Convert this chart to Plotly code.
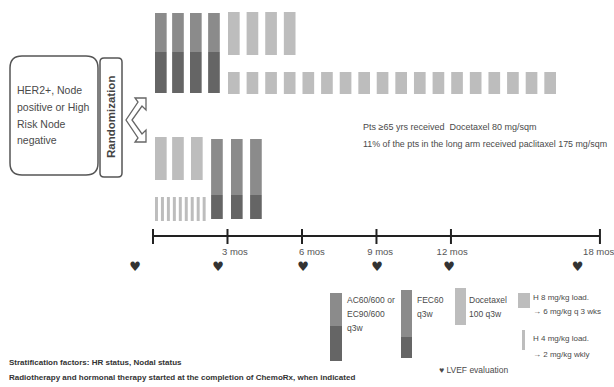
import plotly.graph_objects as go

W, H = 614, 387
PX0, PXM = 153.0, 24.83          # pixel of month 0 and pixels per month
def px2m(px):
    return (px - PX0) / PXM

# ---------------- data (months) ----------------
# Long arm: AC/EC q3w x4 -> Docetaxel q3w x4 ; trastuzumab q3w x18
long_ac_start = [0.08, 0.77, 1.49, 2.22]
long_doc_start = [3.02, 3.77, 4.52, 5.27]
long_h_start = [3.02, 3.77, 4.52, 5.27, 6.02, 6.77, 7.52, 8.27, 9.01,
                9.76, 10.51, 11.26, 12.01, 12.76, 13.51, 14.26, 15.01, 15.76]
# Short arm: Docetaxel q3w x3 + weekly H x9 -> FEC q3w x3
short_doc_start = [0.08, 0.77, 1.53]
short_hw_start = [0.08, 0.32, 0.56, 0.80, 1.04, 1.28, 1.52, 1.76, 2.00]
short_fec_start = [2.34, 3.14, 3.91]

timeline_ticks = [0, 3, 6, 9, 12, 18]
tick_labels = ["3 mos", "6 mos", "9 mos", "12 mos", "18 mos"]
tick_label_pos = [3.3, 6.4, 9.15, 12.05, 17.95]
lvef_months = [-0.72, 2.62, 6.04, 9.02, 11.92, 17.1]

# ---------------- styles ----------------
MED, DARK, LIGHT = "#8b8b8b", "#656565", "#bdbdbd"
FONT = "Liberation Sans, Arial, sans-serif"
TXT = "#4a4a4a"
THICK, THIN = 0.47, 0.12

fig = go.Figure()

def add_bars(starts, width, top, bottom, color):
    fig.add_trace(go.Bar(
        x=[s + width / 2 for s in starts],
        base=[top] * len(starts),
        y=[bottom - top] * len(starts),
        width=[width] * len(starts),
        marker=dict(color=color, line=dict(width=0)),
        showlegend=False, hoverinfo="skip"))

# long arm
add_bars(long_ac_start, THICK, 13, 52, MED)
add_bars(long_ac_start, THICK, 52, 93, DARK)
add_bars(long_doc_start, THICK, 12, 55, LIGHT)
add_bars(long_h_start, THICK, 72, 94, LIGHT)
# short arm
add_bars(short_doc_start, THICK, 137, 180, LIGHT)
add_bars(short_hw_start, THIN, 197, 221, LIGHT)
add_bars(short_fec_start, THICK, 139, 195, MED)
add_bars(short_fec_start, THICK, 195, 219, DARK)

# timeline
fig.add_trace(go.Scatter(x=[timeline_ticks[0], timeline_ticks[-1]], y=[236, 236],
                         mode="lines", line=dict(color="#222", width=2),
                         showlegend=False, hoverinfo="skip"))
tx, ty = [], []
for t in timeline_ticks:
    tx += [t, t, None]
    ty += [229, 244, None]
fig.add_trace(go.Scatter(x=tx, y=ty, mode="lines", line=dict(color="#222", width=2),
                         showlegend=False, hoverinfo="skip"))
fig.add_trace(go.Scatter(x=tick_label_pos, y=[253] * len(tick_labels), mode="text",
                         text=tick_labels, textposition="middle center",
                         textfont=dict(family=FONT, size=9.5, color="#555"),
                         showlegend=False, hoverinfo="skip"))
# LVEF hearts
fig.add_trace(go.Scatter(x=lvef_months, y=[268] * len(lvef_months), mode="text",
                         text=["\u2665"] * len(lvef_months), textposition="middle center",
                         textfont=dict(family="DejaVu Sans", size=13, color="#333"),
                         showlegend=False, hoverinfo="skip"))

shapes = []

def rrect_path(x0, y0, x1, y1, r):
    rx = r / PXM
    X0, X1 = px2m(x0), px2m(x1)
    return (f"M {X0+rx},{y0} L {X1-rx},{y0} Q {X1},{y0} {X1},{y0+r} "
            f"L {X1},{y1-r} Q {X1},{y1} {X1-rx},{y1} L {X0+rx},{y1} "
            f"Q {X0},{y1} {X0},{y1-r} L {X0},{y0+r} Q {X0},{y0} {X0+rx},{y0} Z")

shapes.append(dict(type="path", xref="x", yref="y", path=rrect_path(10, 56, 98, 175, 12),
                   line=dict(color="#555", width=1.5), fillcolor="white"))
shapes.append(dict(type="path", xref="x", yref="y", path=rrect_path(100, 58, 122, 177, 4),
                   line=dict(color="#555", width=1.5), fillcolor="white"))

# chevron double arrow
chev = [(135, 98), (146, 98), (146, 110), (142, 106), (132, 120), (142, 134),
        (146, 130), (146, 142), (135, 142), (138, 138), (126, 120), (138, 102)]
path = "M " + " L ".join(f"{px2m(a)},{b}" for a, b in chev) + " Z"
shapes.append(dict(type="path", xref="x", yref="y", path=path,
                   line=dict(color="#666", width=1.3), fillcolor="white"))

# key swatches
def sw(x0, x1, y0, y1, c):
    shapes.append(dict(type="rect", xref="x", yref="y", x0=px2m(x0), x1=px2m(x1),
                       y0=y0, y1=y1, line=dict(width=0), fillcolor=c, layer="below"))
sw(330, 342, 293, 326, MED); sw(330, 342, 326, 361, DARK)
sw(401, 412, 290, 337, MED); sw(401, 412, 337, 358, DARK)
sw(455, 466, 288, 325, LIGHT)
sw(518, 530, 293, 308, LIGHT)
sw(522, 525, 330, 350, LIGHT)

ann = []
def text(x, y, s, size=11, color=TXT, bold=False, family=FONT, **kw):
    if bold:
        s = f"<b>{s}</b>"
    ann.append(dict(x=x / W, y=y, xref="paper", yref="y", text=s, showarrow=False,
                    xanchor=kw.pop("xanchor", "left"), yanchor="middle",
                    font=dict(family=family, size=size, color=color), **kw))

for yy, s in zip([90, 107, 124, 140], ["HER2+, Node", "positive or High", "Risk Node", "negative"]):
    text(15, yy, s, size=10.5)
ann.append(dict(x=111 / W, y=117, xref="paper", yref="y", text="<b>Randomization</b>",
                showarrow=False, textangle=-90, xanchor="center", yanchor="middle",
                font=dict(family=FONT, size=11.5, color="#444")))

text(361, 127, "Pts \u226565 yrs received  Docetaxel 80 mg/sqm", size=9)
text(361, 144, "11% of the pts in the long arm received paclitaxel 175 mg/sqm", size=8.9)

text(345, 300, "AC60/600 or", size=8.5)
text(345, 314, "EC90/600", size=8.5)
text(345, 328, "q3w", size=8.5)
text(415, 300, "FEC60", size=8.5)
text(415, 314, "q3w", size=8.5)
text(467, 300, "Docetaxel", size=8.5)
text(467, 314, "100 q3w", size=8.5)
text(531, 297, "H 8 mg/kg load.", size=8)
text(531, 311, "\u2192 6 mg/kg q 3 wks", size=8)
text(531, 338, "H 4 mg/kg load.", size=8)
text(531, 354, "\u2192 2 mg/kg wkly", size=8)
text(437, 370, "\u2665 LVEF evaluation", size=8.5)

text(7, 362, "Stratification factors: HR status, Nodal status", size=8, color="#333", bold=True)
text(7, 377, "Radiotherapy and hormonal therapy started at the completion of ChemoRx, when indicated",
     size=8, color="#333", bold=True)

fig.update_layout(
    width=W, height=H, margin=dict(l=0, r=0, t=0, b=0),
    paper_bgcolor="white", plot_bgcolor="white", barmode="overlay",
    xaxis=dict(range=[px2m(0), px2m(W)], visible=False, fixedrange=True),
    yaxis=dict(range=[H, 0], visible=False, fixedrange=True),
    shapes=shapes, annotations=ann, showlegend=False,
)
fig.write_html("out.html", config={"displayModeBar": False},
               post_script="document.body.style.margin='0px';")
